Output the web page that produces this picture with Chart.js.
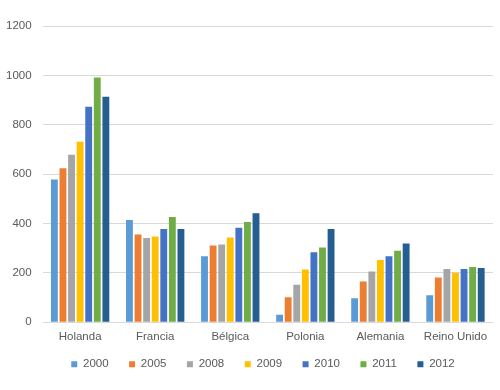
<!DOCTYPE html>
<html>
<head>
<meta charset="utf-8">
<script src="https://cdn.jsdelivr.net/npm/chart.js@4"></script>
<style>
  body { margin: 0; background: #fff; }
  #wrap { width: 500px; height: 390px; }
</style>
</head>
<body>
<div id="wrap"><canvas id="chart" width="500" height="390"></canvas></div>
<script>
var categories = ["Holanda", "Francia", "Bélgica", "Polonia", "Alemania", "Reino Unido"];
var years = ["2000", "2005", "2008", "2009", "2010", "2011", "2012"];

var v2000 = [578, 414, 267, 30, 97, 109];
var v2005 = [624, 355, 311, 101, 165, 181];
var v2008 = [678, 341, 315, 152, 205, 216];
var v2009 = [731, 347, 343, 213, 252, 200];
var v2010 = [873, 378, 383, 283, 267, 216];
var v2011 = [991, 426, 406, 303, 289, 224];
var v2012 = [913, 378, 441, 378, 319, 220];

var yTicks = [0, 200, 400, 600, 800, 1000, 1200];

var colors = ["#5B9BD5", "#ED7D31", "#A5A5A5", "#FFC000", "#4472C4", "#70AD47", "#255E91"];
var series = [v2000, v2005, v2008, v2009, v2010, v2011, v2012];

var fontSpec = { family: "'Liberation Sans', Arial, sans-serif", size: 11.5 };

var datasets = series.map(function (vals, i) {
  return {
    label: years[i],
    data: vals,
    backgroundColor: colors[i],
    borderWidth: 0,
    categoryPercentage: 0.8,
    barPercentage: 0.8,
  };
});

// legend is pulled up a bit, made shorter and nudged right so it sits like the original
var legendTweak = {
  id: "legendTweak",
  beforeLayout: function (chart) {
    var lg = chart.legend;
    if (lg && !lg._tweaked) {
      var fit = lg.fit;
      lg.fit = function () {
        fit.call(this);
        this.height -= 4;
      };
      lg._tweaked = true;
    }
  },
  afterLayout: function (chart) {
    var lg = chart.legend;
    lg.top -= 14;
    lg.bottom -= 14;
    lg.left += 19;
    lg.right += 19;
  },
};

var ctx = document.getElementById("chart").getContext("2d");
new Chart(ctx, {
  type: "bar",
  data: { labels: categories, datasets: datasets },
  plugins: [legendTweak],
  options: {
    responsive: false,
    animation: false,
    layout: { padding: { top: 26, right: 7, left: -5, bottom: 0 } },
    scales: {
      x: {
        grid: { display: false, drawTicks: false },
        border: { display: false },
        ticks: { color: "#595959", font: fontSpec, padding: 8 },
      },
      y: {
        min: 0,
        max: 1200,
        afterBuildTicks: function (axis) {
          axis.ticks = yTicks.map(function (v) { return { value: v }; });
        },
        grid: { color: "#D9D9D9", lineWidth: 1, drawTicks: false },
        border: { display: false },
        ticks: {
          color: "#595959",
          font: fontSpec,
          padding: 11,
          callback: function (value) { return String(value); },
        },
      },
    },
    plugins: {
      legend: {
        position: "bottom",
        labels: {
          color: "#595959",
          font: fontSpec,
          boxWidth: 6,
          boxHeight: 6,
          padding: 20.5,
        },
      },
      tooltip: { enabled: false },
    },
  },
});
</script>
</body>
</html>
